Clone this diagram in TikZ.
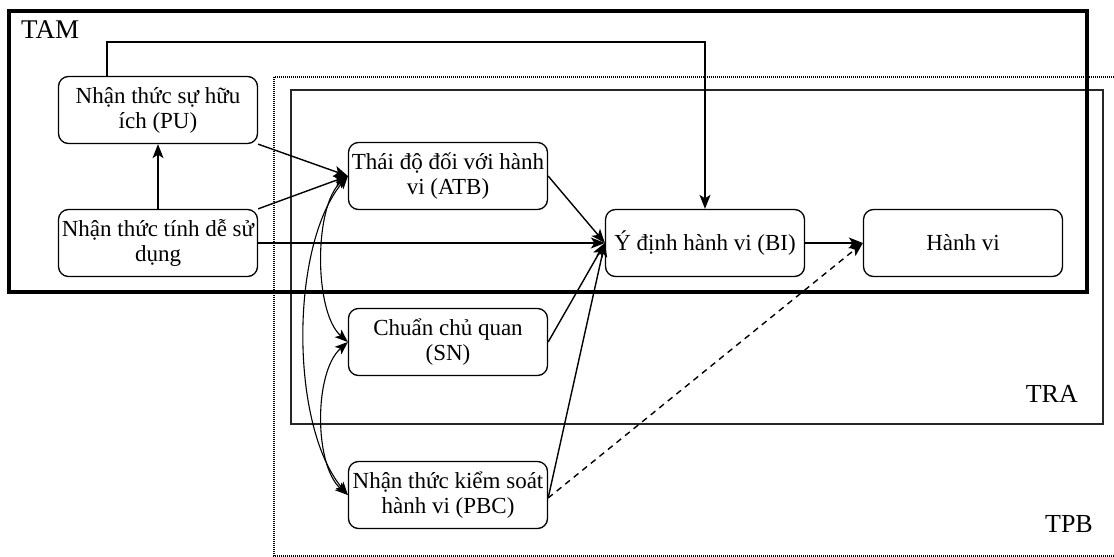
\documentclass[tikz,border=0pt]{standalone}
\usepackage{fontspec}
\setmainfont{Liberation Serif}
\usetikzlibrary{arrows.meta}
\begin{document}
\begin{tikzpicture}[x=1pt,y=-1pt,
  every node/.style={font=\fontsize{23}{25}\selectfont},
  box/.style={draw, line width=1.3pt, rounded corners=10pt, minimum width=199pt, minimum height=67pt, inner sep=0pt, align=center, fill=white},
  arr/.style={line width=1.4pt, -{Stealth[length=14pt,width=11pt,inset=3.5pt]}},
  darr/.style={line width=1.1pt, {Stealth[length=13pt,width=10pt,inset=3pt]}-{Stealth[length=13pt,width=10pt,inset=3pt]}},
  grp/.style={line width=1.6pt},
  lbl/.style={inner sep=0pt, font=\fontsize{26}{28}\selectfont}
]
\useasboundingbox (0,0) rectangle (1114,557);
% group frames
\draw[line width=1.2pt, dash pattern=on 1pt off 1pt] (1114,77) -- (274,77) -- (274,556) -- (1114,556);
\draw[grp, draw=black!85] (291,90) rectangle (1103,424);
\draw[line width=3.5pt] (9,11) rectangle (1087,292);
\node[lbl, anchor=west, font=\fontsize{27}{29}\selectfont] (tam) at (21,30) {TAM};
\node[lbl, anchor=east] (tra) at (1078,394) {TRA};
\node[lbl, anchor=east] (tpb) at (1093,524) {TPB};
% nodes
\node[box] (PU) at (158,110) {Nhận thức sự hữu\\ích (PU)};
\node[box] (PEOU) at (158,243) {Nhận thức tính dễ sử\\dụng};
\node[box] (ATB) at (448,176) {Thái độ đối với hành\\vi (ATB)};
\node[box] (SN) at (448,342) {Chuẩn chủ quan\\(SN)};
\node[box] (PBC) at (448,495) {Nhận thức kiểm soát\\hành vi (PBC)};
\node[box] (BI) at (705,243) {Ý định hành vi (BI)};
\node[box] (HV) at (963,243) {Hành vi};
% connectors
\draw[arr] ([xshift=-51pt]PU.north) -- ++(0,-34) -| (BI.north);
\draw[arr] (PEOU.north) -- (PU.south);
\draw[arr] (PU.south east) -- (ATB.west);
\draw[arr] (PEOU.north east) -- (ATB.west);
\draw[arr] (PEOU.east) -- (BI.west);
\draw[arr] (ATB.east) -- (BI.west);
\draw[arr] (SN.east) -- (BI.west);
\draw[arr] ([yshift=-3pt]PBC.east) -- (BI.west);
\draw[arr] (BI.east) -- (HV.west);
\draw[arr, dash pattern=on 6pt off 5pt] ([yshift=-3pt]PBC.east) -- (HV.west);
\draw[darr] (ATB.west) .. controls +(-34,30) and +(-34,-30) .. (SN.west);
\draw[darr] (ATB.west) .. controls +(-58,70) and +(-58,-70) .. (PBC.west);
\draw[darr] (SN.west) .. controls +(-34,30) and +(-34,-30) .. (PBC.west);
\end{tikzpicture}
\end{document}
